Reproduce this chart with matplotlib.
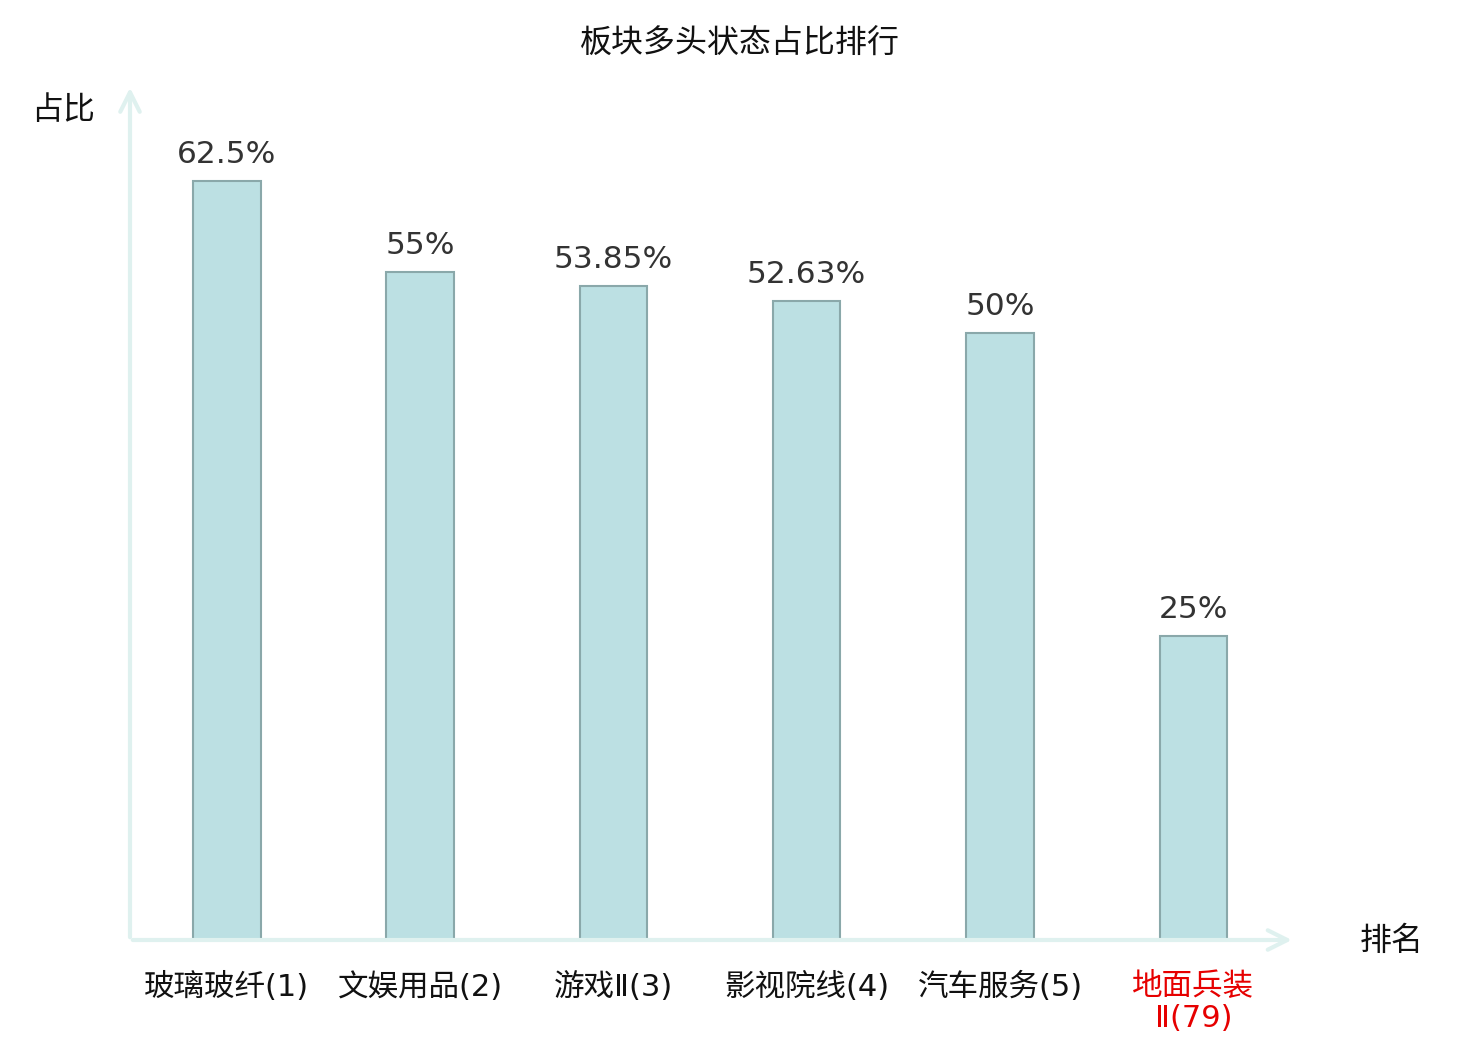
import matplotlib
matplotlib.use('Agg')
import matplotlib.pyplot as plt

plt.rcParams['font.family'] = ['Noto Sans CJK SC', 'DejaVu Sans']

# Data
sectors = ['玻璃玻纤(1)', '文娱用品(2)', '游戏Ⅱ(3)', '影视院线(4)', '汽车服务(5)', '地面兵装\nⅡ(79)']
ratios = [62.5, 55, 53.85, 52.63, 50, 25]
ratio_labels = ['62.5%', '55%', '53.85%', '52.63%', '50%', '25%']
highlight = [False, False, False, False, False, True]

fig = plt.figure(figsize=(14.8, 10.4), dpi=100)
ax = fig.add_axes([130 / 1480, 100 / 1040, 1160 / 1480, 850 / 1040])

x = list(range(len(sectors)))
ax.bar(x, ratios, width=0.35, color='#bce0e3', edgecolor='#8aa8aa', linewidth=1.5, zorder=2)

for xi, v, lab in zip(x, ratios, ratio_labels):
    ax.text(xi, v + 1.0, lab, ha='center', va='bottom', fontsize=22.5,
            color='#333333', family=['DejaVu Sans', 'Noto Sans CJK SC'])

ax.set_xlim(-0.5, 5.5)
ax.set_ylim(0, 70)
ax.set_yticks([])
ax.set_xticks(x)
ax.set_xticklabels(sectors, fontsize=22, linespacing=1.15,
                   family=['DejaVu Sans', 'Noto Sans CJK SC'])
for tl, hi in zip(ax.get_xticklabels(), highlight):
    tl.set_color('#e60000' if hi else '#111111')
ax.tick_params(axis='x', length=0, pad=23)
for s in ax.spines.values():
    s.set_visible(False)

# axis arrows
arrow_col = '#dff1ef'
ax.annotate('', xy=(1.004, 0), xytext=(0, 0), xycoords='axes fraction',
            arrowprops=dict(arrowstyle='->', color=arrow_col, lw=3, mutation_scale=35),
            annotation_clip=False)
ax.annotate('', xy=(0, 1.006), xytext=(0, 0), xycoords='axes fraction',
            arrowprops=dict(arrowstyle='->', color=arrow_col, lw=3, mutation_scale=35),
            annotation_clip=False)

fig.text(63 / 1480, 1 - 110 / 1040, '占比', ha='center', va='center', fontsize=23, color='#111111')
fig.text(1392 / 1480, 1 - 941 / 1040, '排名', ha='center', va='center', fontsize=23, color='#111111')
fig.text(0.5, 1 - 44 / 1040, '板块多头状态占比排行', ha='center', va='center', fontsize=23, color='#111111')

plt.savefig('out.png', dpi=100)
